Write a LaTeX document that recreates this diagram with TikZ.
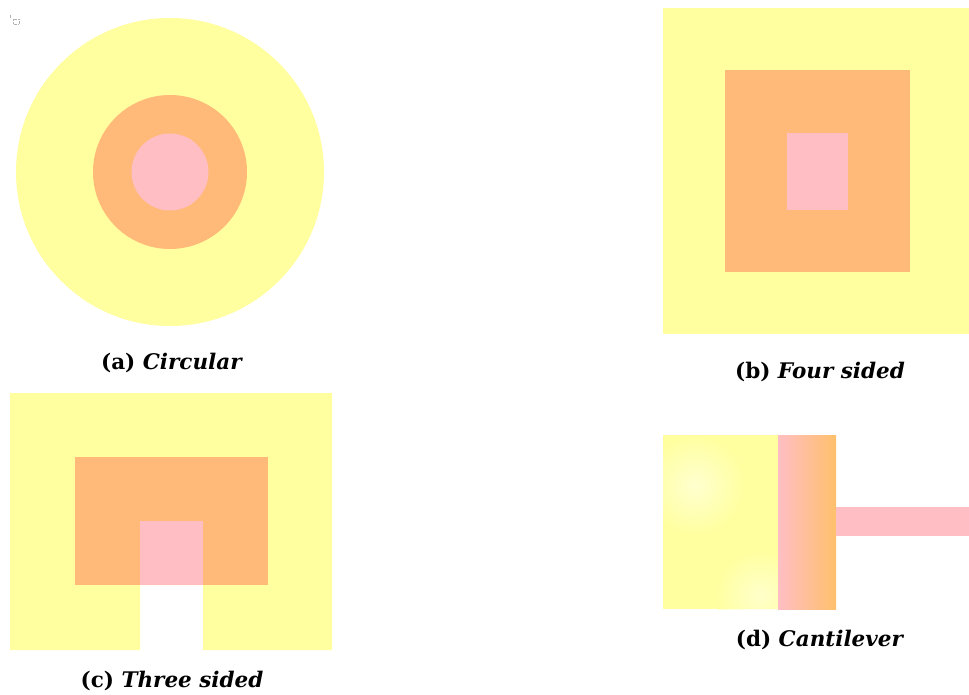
\documentclass[tikz,border=0pt]{standalone}
\usepackage{fontspec}
\setmainfont{DejaVu Serif}
\begin{document}
\begin{tikzpicture}[x=1pt,y=-1pt,
  yel/.style={fill=cyel,draw=none},
  org/.style={fill=corg,draw=none},
  pnk/.style={fill=cpnk,draw=none},
  lab/.style={font=\fontsize{21.5}{24}\selectfont\bfseries, inner sep=0pt}]
\definecolor{cyel}{RGB}{255,255,160}
\definecolor{corg}{RGB}{255,185,120}
\definecolor{cpnk}{RGB}{255,190,195}
\useasboundingbox (0,0) rectangle (969,695);
% stray mark
\draw[gray!60, line width=0.4pt] (10.5,15) -- (10.5,18);
\draw[gray!60, densely dotted, line width=0.4pt] (13,19) rectangle (19,24);
% (a) circular
\fill[yel] (170,172) circle (154);
\fill[org] (170,172) circle (77);
\fill[pnk] (170,172) circle (38.5);
\node[lab] (la) at (172,363) {(a) \textit{Circular}};
% (b) four sided
\fill[yel] (663,8) rectangle (969,334);
\fill[org] (725,70) rectangle (910,272);
\fill[pnk] (787,133) rectangle (848,210);
\node[lab] (lb) at (820,372) {(b) \textit{Four sided}};
% (c) three sided
\fill[yel] (10,393) -- (332,393) -- (332,650) -- (203,650) -- (203,585) -- (140,585) -- (140,650) -- (10,650) -- cycle;
\fill[org] (75,457) rectangle (268,585);
\fill[pnk] (140,521) rectangle (203,585);
\node[lab] (lc) at (172,681) {(c) \textit{Three sided}};
% (d) cantilever
\fill[yel] (663,435) rectangle (778,609);
\begin{scope}
\clip (663,435) rectangle (778,609);
\shade[inner color=white, outer color=cyel, opacity=0.5] (695,485) circle (50);
\shade[inner color=white, outer color=cyel, opacity=0.45] (760,595) circle (45);
\end{scope}
\shade[left color=cpnk, right color=corg!90!yellow, draw=none] (778,435) rectangle (836,609);
\fill[pnk] (836,507) rectangle (969,536);
\node[lab] (ld) at (820,640) {(d) \textit{Cantilever}};
\end{tikzpicture}
\end{document}
